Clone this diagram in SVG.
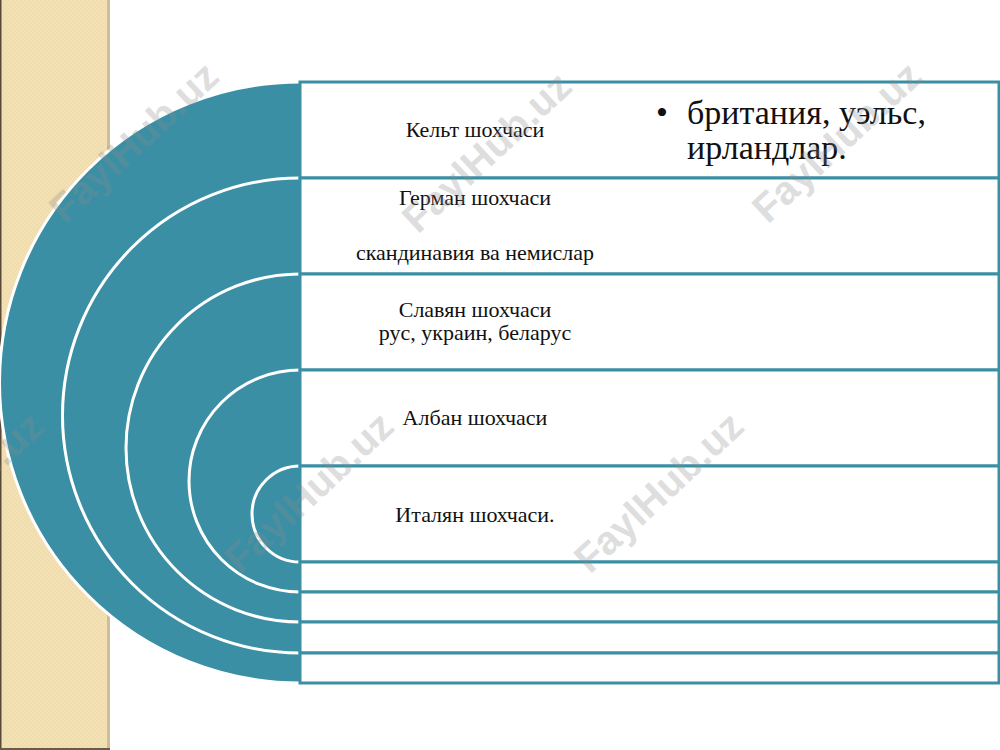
<svg xmlns="http://www.w3.org/2000/svg" width="1000" height="750" viewBox="0 0 1000 750">
<defs>
<pattern id="dots" width="4" height="4" patternUnits="userSpaceOnUse">
<rect width="4" height="4" fill="#F3E1B4"/>
<circle cx="1" cy="1" r="0.7" fill="#EAD7A8"/>
<circle cx="3" cy="3" r="0.7" fill="#EAD7A8"/>
</pattern>
<style>
.ring{fill:#3A8FA5;stroke:#ffffff;stroke-width:3}
.row{fill:#ffffff;stroke:#3A8FA5;stroke-width:3}
.lbl{font-family:"Liberation Serif","Times New Roman",serif;font-size:22px;fill:#111;text-anchor:middle}
.big{font-family:"Liberation Serif","Times New Roman",serif;font-size:34px;fill:#111}
.wm{font-family:"Liberation Sans",Arial,sans-serif;font-weight:bold;font-size:40px;fill:#8a8a8a;opacity:0.28;text-anchor:middle}
</style>
</defs>
<rect width="1000" height="750" fill="#ffffff"/>
<g id="sidebar">
<rect x="0" y="0" width="110" height="750" fill="url(#dots)"/>
<rect x="107" y="0" width="3" height="750" fill="#CDBE9A"/>
<rect x="0" y="0" width="1.5" height="750" fill="#5A4A3A"/>
<rect x="0" y="748" width="110" height="2" fill="#6A5A48"/>
</g>
<g id="rings">
<circle class="ring" cx="300" cy="382.5" r="300.5"/>
<circle class="ring" cx="300" cy="415.5" r="237.5"/>
<circle class="ring" cx="300" cy="448" r="174"/>
<circle class="ring" cx="300" cy="481" r="111"/>
<circle class="ring" cx="300" cy="514" r="48"/>
</g>
<g id="rows">
<rect x="302" y="0" width="698" height="750" fill="#ffffff"/>
<g id="row1"><rect class="row" x="300" y="82" width="699" height="96"/>
<text class="lbl" x="475" y="137">Кельт шохчаси</text>
<text class="big" x="656" y="124">•</text>
<text class="big" x="687" y="124">британия, уэльс,</text>
<text class="big" x="687" y="159">ирландлар.</text></g>
<g id="row2"><rect class="row" x="300" y="178" width="699" height="96"/>
<text class="lbl" x="475" y="205">Герман шохчаси</text>
<text class="lbl" x="475" y="260">скандинавия ва немислар</text></g>
<g id="row3"><rect class="row" x="300" y="274" width="699" height="96"/>
<text class="lbl" x="475" y="317">Славян шохчаси</text>
<text class="lbl" x="475" y="340">рус, украин, беларус</text></g>
<g id="row4"><rect class="row" x="300" y="370" width="699" height="96"/>
<text class="lbl" x="475" y="425">Албан шохчаси</text></g>
<g id="row5"><rect class="row" x="300" y="466" width="699" height="96"/>
<text class="lbl" x="475" y="522">Италян шохчаси.</text></g>
<g id="row6"><rect class="row" x="300" y="562" width="699" height="30"/></g>
<g id="row7"><rect class="row" x="300" y="592" width="699" height="30"/></g>
<g id="row8"><rect class="row" x="300" y="622" width="699" height="31"/></g>
<g id="row9"><rect class="row" x="300" y="653" width="699" height="30"/></g>
</g>
<g id="watermarks">
<text class="wm" transform="translate(143,152) rotate(-43)">FaylHub.uz</text>
<text class="wm" transform="translate(496,162) rotate(-43)">FaylHub.uz</text>
<text class="wm" transform="translate(846,152) rotate(-43)">FaylHub.uz</text>
<text class="wm" transform="translate(-32,502) rotate(-43)">FaylHub.uz</text>
<text class="wm" transform="translate(318,502) rotate(-43)">FaylHub.uz</text>
<text class="wm" transform="translate(668,502) rotate(-43)">FaylHub.uz</text>
</g>
</svg>
